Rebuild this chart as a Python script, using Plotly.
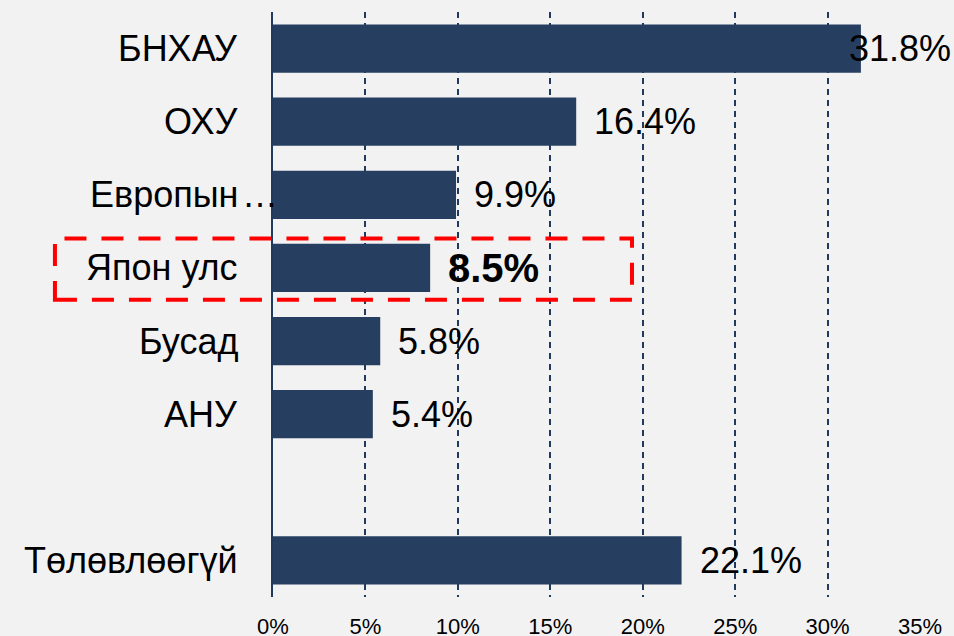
import plotly.graph_objects as go

categories = ["БНХАУ", "ОХУ", "Европын…", "Япон улс", "Бусад", "АНУ", " ", "Төлөвлөөгүй"]
values = [31.8, 16.4, 9.9, 8.5, 5.8, 5.4, None, 22.1]
value_labels = ["31.8%", "16.4%", "9.9%", "8.5%", "5.8%", "5.4%", "", "22.1%"]
highlight = "Япон улс"
x_ticks = [0, 5, 10, 15, 20, 25, 30, 35]
x_ticktext = ["0%", "5%", "10%", "15%", "20%", "25%", "30%", "35%"]

BAR = "#263f60"
GRID = "#1f3a5c"
BG = "#f2f2f2"
FONT = "Liberation Sans, Arial, sans-serif"
label_shift = {"БНХАУ": -14}

fig = go.Figure()
fig.add_trace(go.Bar(
    y=categories, x=values, orientation="h",
    marker=dict(color=BAR, line=dict(width=0)),
    width=0.66, hoverinfo="skip",
))

annotations = []
# category labels
for c in categories:
    if not c.strip():
        continue
    if c.endswith("…"):
        annotations.append(dict(x=0, y=c, xref="x", yref="y", text=c[:-1], showarrow=False,
                                xanchor="right", yanchor="middle", xshift=-33,
                                font=dict(size=36, color="black", family=FONT)))
        annotations.append(dict(x=0, y=c, xref="x", yref="y", text="…", showarrow=False,
                                xanchor="left", yanchor="middle", xshift=-33,
                                font=dict(size=36, color="black", family=FONT)))
    else:
        annotations.append(dict(x=0, y=c, xref="x", yref="y", text=c, showarrow=False,
                                xanchor="right", yanchor="middle", xshift=-33,
                                font=dict(size=36, color="black", family=FONT)))

# value labels
for c, v, t in zip(categories, values, value_labels):
    if v is None:
        continue
    bold = c == highlight
    annotations.append(dict(
        x=v, y=c, xref="x", yref="y",
        text=f"<b>{t}</b>" if bold else t, showarrow=False,
        xanchor="left", yanchor="middle", xshift=label_shift.get(c, 16),
        font=dict(size=40 if bold else 36, color="black", family=FONT),
    ))

fig.update_layout(
    width=954, height=636,
    margin=dict(l=273, r=33, t=12, b=39, autoexpand=False),
    paper_bgcolor=BG, plot_bgcolor=BG,
    showlegend=False,
    font=dict(family=FONT, color="black"),
    annotations=annotations,
    shapes=[dict(
        type="rect", xref="paper", yref="paper",
        x0=-0.3365, x1=0.554, y0=0.508, y1=0.613,
        line=dict(color="#ff0000", width=4, dash="22px,15px"),
        fillcolor="rgba(0,0,0,0)", layer="above",
    )],
    xaxis=dict(
        range=[0, 35.05], tickvals=x_ticks, ticktext=x_ticktext,
        showgrid=True, gridcolor=GRID, gridwidth=1.5, griddash="6px,5px",
        zeroline=False, showline=False, ticks="",
        tickfont=dict(size=22, color="black", family=FONT),
        ticklabelstandoff=14, fixedrange=True, automargin=False,
    ),
    yaxis=dict(
        categoryorder="array", categoryarray=categories,
        autorange="reversed", showticklabels=False, ticks="",
        showgrid=False, zeroline=False, automargin=False,
        showline=True, linecolor=GRID, linewidth=2, fixedrange=True,
    ),
    bargap=0.34,
)

fig.write_html(
    "out.html",
    config={"displayModeBar": False},
    post_script="document.body.style.margin='0px';document.body.style.overflow='hidden';",
)
